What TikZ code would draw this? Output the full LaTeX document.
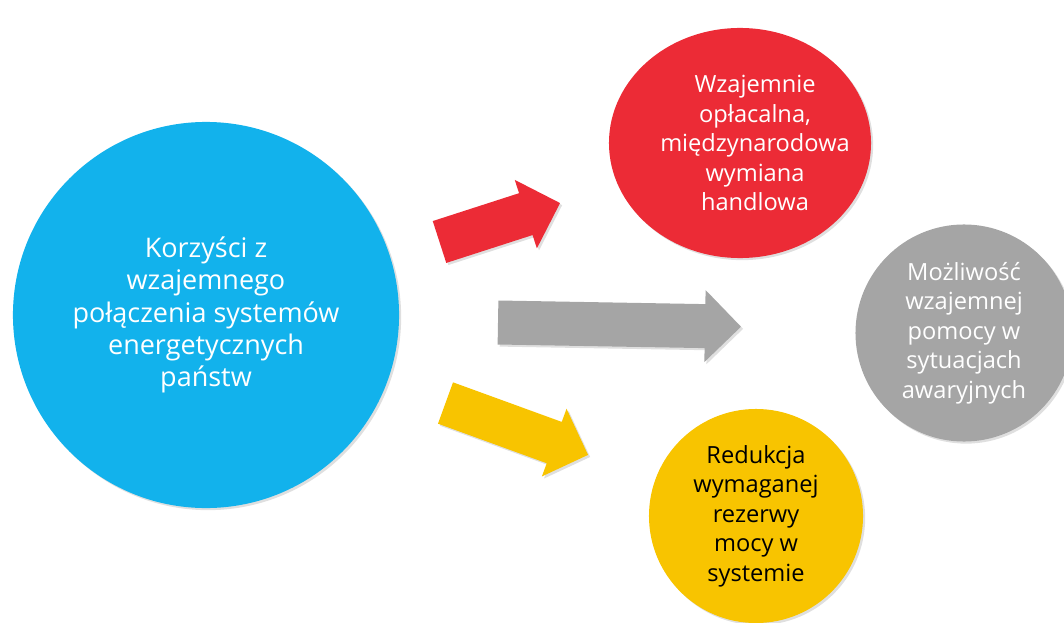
\documentclass[tikz,border=0pt]{standalone}
\usepackage{fontspec}
\setmainfont{Open Sans}
\usepackage{tikz}
\usetikzlibrary{shapes.geometric,shadows}

\definecolor{bubbleblue}{RGB}{18,178,236}
\definecolor{bubblered}{RGB}{236,43,54}
\definecolor{bubblegray}{RGB}{165,165,165}
\definecolor{bubbleyellow}{RGB}{248,196,0}

\begin{document}
\begin{tikzpicture}[
	x=0.025cm,
	y=-0.025cm,
	softshadow/.style={
		drop shadow={shadow xshift=1.5pt,shadow yshift=-1.5pt,opacity=0.25}
	},
	bubble/.style={
		draw=none,
		circle,
		inner sep=0pt,
		align=center,
		text=white,
		font=\fontsize{16.8}{21}\selectfont,
		softshadow
	},
	blockarrow/.style={
		draw=none,
		softshadow
	}
	]
	\useasboundingbox (0,0) rectangle (1064,623);
	\clip (0,0) rectangle (1064,623);

	% main circle
	\node[bubble,fill=bubbleblue,minimum size=9.65cm,font=\fontsize{19.2}{23}\selectfont] (korzysci) at (206,315)
		{Korzyści z\\wzajemnego\\połączenia systemów\\energetycznych\\państw};

	% outcomes
	\node[bubble,ellipse,fill=bubblered,minimum width=6.55cm,minimum height=5.75cm] (wymiana) at (740,143) {};
	\node[white,align=center,font=\fontsize{16.8}{21}\selectfont] (wymianaTxt) at (755,143)
		{Wzajemnie\\opłacalna,\\międzynarodowa\\wymiana\\handlowa};
	\node[bubble,fill=bubblegray,minimum size=5.425cm] (pomoc) at (964,333)
		{Możliwość\\wzajemnej\\pomocy w\\sytuacjach\\awaryjnych};
	\node[bubble,fill=bubbleyellow,minimum size=5.35cm,text=black] (rezerwa) at (756,516)
		{Redukcja\\wymaganej\\rezerwy\\mocy w\\systemie};

	% arrows: tail x/y, angle, length, colour
	\foreach \tx/\ty/\ang/\len/\col in {439.5/242/17.9/126.7/bubblered,
		498/322.5/-1/243/bubblegray,
		445.5/403/-20/151.7/bubbleyellow}
	{
		\begin{scope}[shift={(\tx,\ty)},rotate=\ang]
			\fill[blockarrow,fill=\col] (0,-22) -- (\len-36,-22) -- (\len-36,-36) -- (\len,0)
				-- (\len-36,36) -- (\len-36,22) -- (0,22) -- cycle;
		\end{scope}
	}
\end{tikzpicture}
\end{document}
